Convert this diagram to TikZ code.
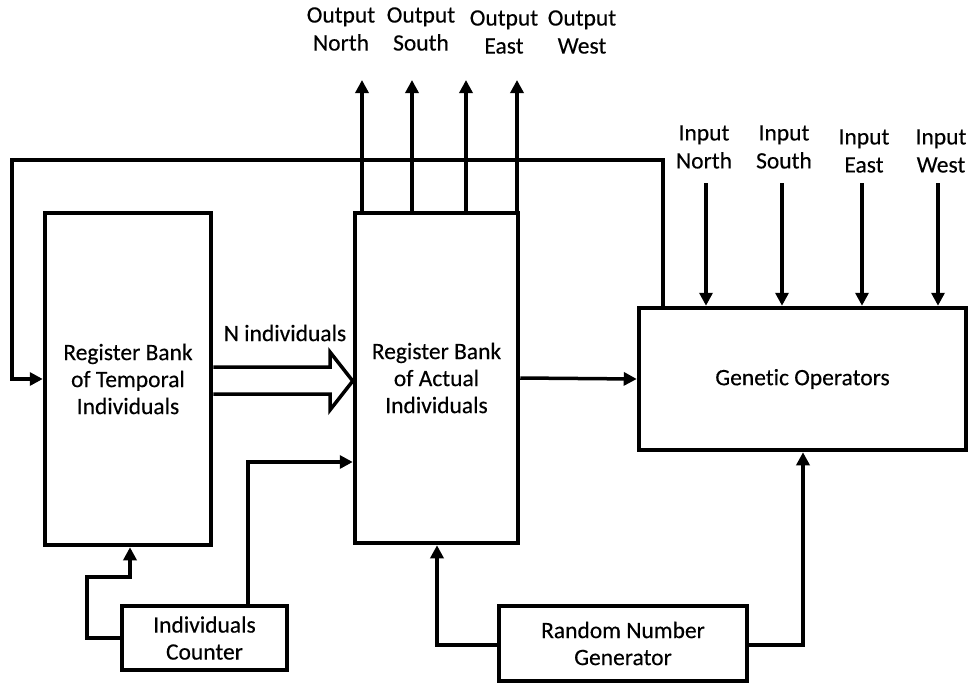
\documentclass[tikz,border=0pt]{standalone}
\usepackage{fontspec}
\setmainfont{Carlito}[RawFeature={embolden=0.3},Ligatures=NoCommon]
\usetikzlibrary{arrows.meta}
\begin{document}
\begin{tikzpicture}[x=1pt,y=-1pt,
  box/.style={draw,line width=4.5pt,align=center,inner sep=0pt,font=\fontsize{23.5}{27}\selectfont},
  conn/.style={line width=3.5pt,-{Triangle[length=13pt,width=13pt]}},
  lbl/.style={align=center,inner sep=0pt,font=\fontsize{23.5}{28}\selectfont}]
\useasboundingbox (0,0) rectangle (970,686);
% boxes
\node[box,minimum width=166pt,minimum height=332pt] (T) at (128,379) {Register Bank\\of Temporal\\Individuals};
\node[box,minimum width=163pt,minimum height=330pt] (A) at (436.5,378) {Register Bank\\of Actual\\Individuals};
\node[box,minimum width=327pt,minimum height=142pt] (G) at (802.5,379) {Genetic Operators};
\node[box,minimum width=165pt,minimum height=64pt] (C) at (204.5,638) {Individuals\\Counter};
\node[box,minimum width=248pt,minimum height=75pt] (R) at (623,643.5) {Random Number\\Generator};
% wide arrow
\draw[line width=3.5pt,fill=white,line join=miter] (T.east |- 0,367) -- (330,367) -- (330,352) -- (A.west |- 0,381) -- (330,410) -- (330,394) -- (T.east |- 0,394);
\node[lbl] (N) at (285,333) {N individuals};
% feedback
\coordinate (fbA) at (663,160);
\coordinate (fbB) at (12,160);
\draw[conn] (fbA |- G.north) -- (fbA) -- (fbB) |- (T.west);
% actual -> genetic
\draw[conn] (A.east) -- (G.west);
% counter -> temporal
\coordinate (c1) at (87,577);
\coordinate (c2) at (130,577);
\draw[conn] (C.west) -| (c1) -- (c2) -- (c2 |- T.south);
% counter -> actual
\coordinate (c3) at (248,462);
\draw[conn] (c3 |- C.north) -- (c3) -- (c3 -| A.west);
% RNG -> actual
\coordinate (r1) at (437,645);
\draw[conn] (R.west |- r1) -- (r1) -- (r1 |- A.south);
% RNG -> genetic
\coordinate (r2) at (803,645);
\draw[conn] (R.east |- r2) -- (r2) -- (r2 |- G.south);
% outputs
\foreach \x/\n in {362/1,412/2,466/3,517/4}{
  \coordinate (o\n) at (\x,80);
  \draw[conn] (o\n |- A.north) -- (o\n);
}
\node[lbl] (ON) at (341,29) {Output\\North};
\node[lbl] (OS) at (421,29) {Output\\South};
\node[lbl] (OE) at (504,32) {Output\\East};
\node[lbl] (OW) at (582,32) {Output\\West};
% inputs
\foreach \x/\n in {706/1,782/2,862/3,938/4}{
  \coordinate (i\n) at (\x,183);
  \draw[conn] (i\n) -- (i\n |- G.north);
}
\node[lbl] (IN) at (704,147) {Input\\North};
\node[lbl] (IS) at (784,147) {Input\\South};
\node[lbl] (IE) at (864,151) {Input\\East};
\node[lbl] (IW) at (941,151) {Input\\West};
\end{tikzpicture}
\end{document}
